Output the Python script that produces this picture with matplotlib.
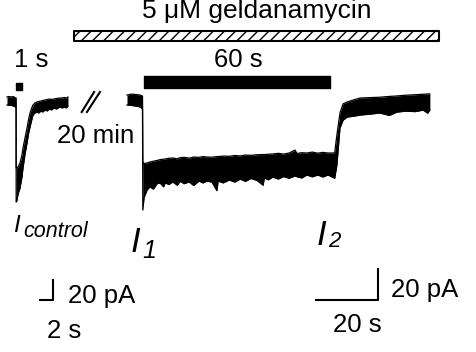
import matplotlib
matplotlib.use("Agg")
import matplotlib.pyplot as plt

plt.rcParams['font.family'] = ['Liberation Sans', 'DejaVu Sans']

W, H = 477, 352

# control response (time in s, current envelope in pA)
ctrl_t = [0, 0.3, 0.6, 0.9, 1.08, 1.30, 1.40, 1.41, 1.50, 1.70, 2.00, 2.30, 2.46, 2.80,
          3.08, 3.30, 3.54, 3.80, 4.00, 4.30, 4.62, 4.9, 5.2, 5.5, 5.85, 6.2, 6.5, 6.85,
          7.2, 7.6, 8.15, 8.5, 8.8, 9.1, 9.38]
ctrl_up = [4, 4.5, 4, 4.5, 4, 3, 3, -67, -67, -66, -62, -54, -47, -36,
           -27, -19, -12, -7, -4, -2, -1, -0.5, 0, 0.5, 1, 1.5, 2, 1.5,
           2, 2.5, 3, 3, 3.5, 3, 4]
ctrl_lo = [-4, -4.5, -4, -5, -5, -6, -6, -101, -100, -93, -87, -76, -67, -52,
           -42, -33, -26, -19, -14, -12, -11, -12, -10, -11, -9, -10, -8, -9,
           -7, -8, -6, -7, -6, -7, -5]

# response during geldanamycin
gel_t = [0, 1.5, 3.0, 4.2, 4.9, 5.0, 5.1, 5.5, 6.5, 7.4, 8.5, 9.7, 10.6, 11.8, 12.3, 13.5,
         14.8, 16.2, 17.1, 18.5, 20, 21.5, 23.2, 24.5, 25.8, 27.4, 29.0, 29.4, 31, 33,
         34.8, 36.5, 38.2, 40, 42, 43.9, 44.3, 45.6, 47, 48.8, 50.5, 52.3, 54.2, 54.8,
         56.4, 58, 59.8, 61.5, 63.2, 64.8, 66.5, 67.0, 67.7, 68.7, 69.7, 71, 73, 75.2,
         78, 81.6, 84.6, 87, 90, 93, 95.5, 97.0, 97.7]
gel_up = [3.2, 3.8, 3.5, 3.2, 2.6, 2.6, -40, -41, -40.6, -40, -39.5, -39, -38.5, -38.2, -38, -37.6,
          -37.4, -38, -37.2, -37, -37.5, -36.8, -37, -36.5, -36.8, -36.9, -36.5, -36.5, -36.2, -36.3,
          -35.8, -36.1, -35.5, -35.7, -35.3, -35.2, -35.2, -35, -34.8, -34.4, -34.9, -34.2, -32.3, -34.5,
          -34, -34.2, -33.6, -34.3, -33.8, -34.2, -34.2, -34, -22.6, -8.4, -2.5, -1.3, 0, 1.3,
          1.5, 1.8, 2.3, 2.6, 3.1, 3.4, 3.7, 3.9, 3.9]
gel_lo = [-3.2, -3.5, -4.0, -4.5, -5.5, -5.5, -71, -63, -58, -56, -57.5, -54, -53.5, -56, -53.5, -54.5,
          -52.9, -55, -52.5, -54, -52.8, -55.2, -52.3, -53.5, -52.3, -53, -58.5, -52.3, -53.5, -51.6,
          -53, -51, -52.5, -50.6, -52, -55, -50.3, -51.5, -49.7, -51, -49.4, -50.5, -49, -49.5,
          -50.3, -48.4, -49.6, -48.4, -49.7, -48.4, -50, -50.5, -42, -18, -13, -11, -10.5, -9.7,
          -9.2, -8.4, -10, -7.8, -7.2, -7.5, -6.5, -8.5, -6.5]

ctrl_pulse = (1.38, 1.0)      # agonist application, s
gel_pulse = (5.5, 60.0)
drug_span = (-17.1, 117.7)

fig = plt.figure(figsize=(W / 100, H / 100), dpi=100)

# control axes: 6.5 px/s, 1 px/pA
ax1 = fig.add_axes([0, 0, 1, 1])
ax1.set_xlim(-7 / 6.5, (W - 7) / 6.5)
ax1.set_ylim(101 - H, 101)
ax1.axis('off')

# geldanamycin axes: 3.1 px/s, 1.55 px/pA
ax2 = fig.add_axes([0, 0, 1, 1])
ax2.patch.set_alpha(0)
ax2.set_xlim(-127 / 3.1, (W - 127) / 3.1)
ax2.set_ylim(-(H - 100) / 1.55, 100 / 1.55)
ax2.axis('off')

for ax, t, up, lo in [(ax1, ctrl_t, ctrl_up, ctrl_lo), (ax2, gel_t, gel_up, gel_lo)]:
    ax.fill_between(t, lo, up, color='k', lw=0)
    ax.plot(t, up, color='k', lw=0.9)
    ax.plot(t, lo, color='k', lw=0.9)

ax1.broken_barh([ctrl_pulse], (11, 7), color='k')
ax2.broken_barh([gel_pulse], (7.7, 7.8), color='k')
ax2.broken_barh([drug_span], (38, 6.5), facecolor='white', edgecolor='k',
                hatch='///', lw=1.5)

# break marks
ax1.plot([11.5, 13.4], [-11, 9], color='k', lw=1.5)
ax1.plot([12.3, 14.3], [-11, 9], color='k', lw=1.5)

# scale bars
ax1.plot([5.08, 7.08, 7.08], [-199, -199, -179], color='k', lw=1.5)
ax2.plot([61, 81, 81], [-129, -129, -109], color='k', lw=1.5)


def px(x, y):
    return x / W, 1 - y / H


def txt(x, y, s, size, **kw):
    fig.text(*px(x, y), s, fontsize=size, va='baseline', **kw)


txt(257, 18, '5 \u03bcM geldanamycin', 19, ha='center')
txt(14, 67, '1 s', 18.5)
txt(238, 67, '60 s', 18.5, ha='center')
txt(57, 143, '20 min', 18.5)
txt(13, 232, 'I', 17.5, style='italic')
txt(23, 237, 'control', 15.5, style='italic')
txt(131, 252, 'I', 25, style='italic')
txt(142, 258, '1', 18, style='italic')
txt(317, 245, 'I', 25, style='italic')
txt(328, 247, '2', 16, style='italic')
txt(68, 303, '20 pA', 18.5)
txt(47, 338, '2 s', 18.5)
txt(391, 297, '20 pA', 18.5)
txt(333, 332, '20 s', 18.5)

fig.savefig('out.png', dpi=100)
